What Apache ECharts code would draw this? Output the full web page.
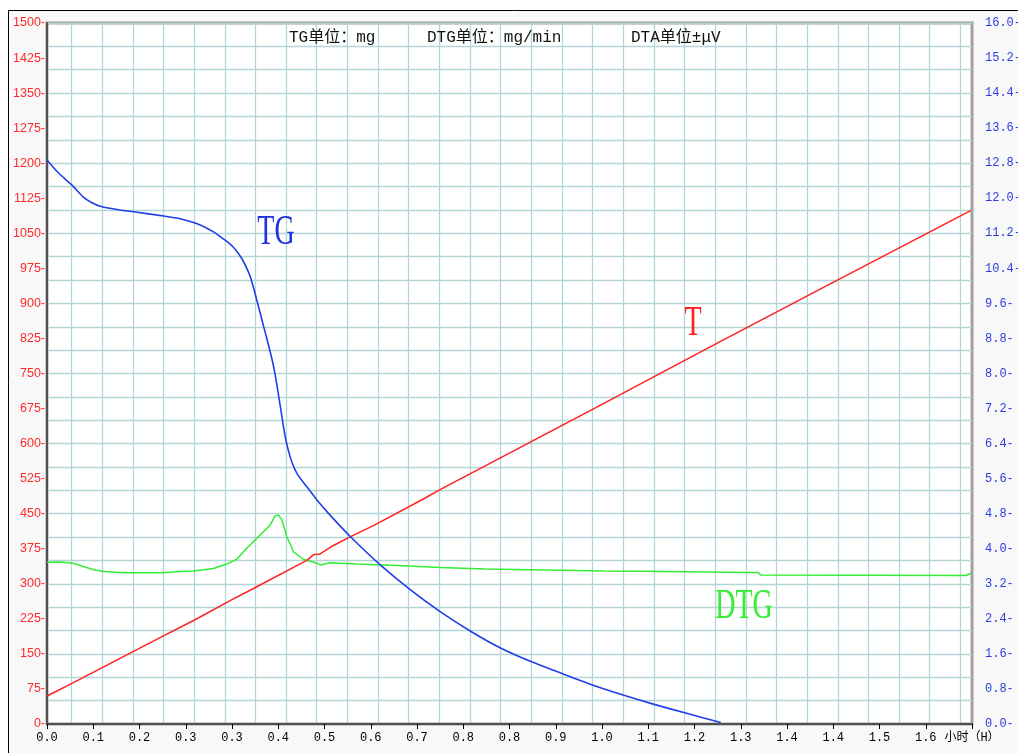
<!DOCTYPE html>
<html><head><meta charset="utf-8">
<script src="https://cdn.jsdelivr.net/npm/echarts@6/dist/echarts.min.js"></script>
<style>html,body{margin:0;padding:0;background:#fff;}#c{width:1018px;height:753px;}</style>
</head><body><div id="c"></div>
<script>
// ---- data (time in hours) ----
const xTickLabels = ['0.0','0.1','0.2','0.3','0.3','0.4','0.5','0.6','0.7','0.8','0.8','0.9','1.0','1.1','1.2','1.3','1.4','1.4','1.5','1.6','小时（H）'];

const tgTime  = [0, 0.02, 0.045, 0.065, 0.08, 0.096, 0.126, 0.156, 0.21, 0.24, 0.276, 0.30, 0.312, 0.327, 0.339, 0.351, 0.36, 0.366, 0.372, 0.378, 0.384, 0.39, 0.396, 0.402, 0.407, 0.411, 0.415, 0.419, 0.423, 0.426, 0.43, 0.435, 0.442, 0.45, 0.46, 0.468, 0.486, 0.51, 0.55, 0.601, 0.655, 0.709, 0.764, 0.818, 0.873, 0.928, 0.984, 1.038, 1.094, 1.149, 1.214];
const tgValue = [1207, 1180, 1153, 1128, 1116, 1108, 1101, 1096, 1087, 1081, 1068, 1053, 1043, 1030, 1016, 996, 975, 958, 934, 907, 880, 852, 825, 797, 772, 748, 720, 690, 660, 637, 610, 585, 558, 537, 520, 508, 480, 447, 397, 340, 287, 240, 198, 162, 133, 108, 83, 62, 42, 24, 3];

const dtgTime  = [0, 0.023, 0.047, 0.084, 0.102, 0.138, 0.21, 0.24, 0.264, 0.3, 0.324, 0.342, 0.36, 0.378, 0.402, 0.411, 0.417, 0.423, 0.432, 0.444, 0.462, 0.486, 0.492, 0.51, 0.559, 0.643, 0.709, 0.79, 0.871, 1.003, 1.112, 1.262, 1.281, 1.286, 1.656, 1.665];
const dtgValue = [3.69, 3.70, 3.67, 3.52, 3.48, 3.45, 3.45, 3.48, 3.49, 3.55, 3.65, 3.76, 4.01, 4.24, 4.54, 4.75, 4.77, 4.66, 4.28, 3.93, 3.76, 3.67, 3.63, 3.68, 3.65, 3.61, 3.57, 3.54, 3.52, 3.49, 3.48, 3.46, 3.46, 3.40, 3.39, 3.44];

const tTime  = [0, 0.045, 0.155, 0.209, 0.265, 0.33, 0.372, 0.468, 0.48, 0.492, 0.516, 0.547, 0.589, 0.679, 0.709, 0.781, 1.0, 1.2, 1.4, 1.665];
const tValue = [60, 87, 155, 188, 222, 264, 290, 350, 362, 364, 382, 401, 425, 482, 502, 547, 684, 810, 935, 1099];

const headerTexts = ['TG单位：mg', 'DTG单位：mg/min', 'DTA单位±μV'];
const curveLabels = ['TG', 'T', 'DTG'];

// ---- build ----
const toPairs = (ts, vs) => ts.map((t, i) => [t * 60, vs[i]]);
const GRID = {left: 47, right: 46, top: 23, bottom: 29};
const gridColor = '#b4d5d5';
const headFont = "'Liberation Mono', 'Noto Sans CJK SC', monospace";
const serif = "'Liberation Serif', 'DejaVu Serif', serif";

const chart = echarts.init(document.getElementById('c'), null, {renderer: 'canvas'});
const option = {
  backgroundColor: '#ffffff',
  animation: false,
  graphic: [
    {type: 'rect', z: -100, silent: true, shape: {x: 8.5, y: 10.5, width: 1100, height: 800},
     style: {fill: '#f8f8f8', stroke: '#000', lineWidth: 1}},
    {type: 'text', z: 100, x: 289, y: 38, style: {text: headerTexts[0], fontSize: 16, fontFamily: headFont, fill: '#111', verticalAlign: 'middle'}},
    {type: 'text', z: 100, x: 427, y: 38, style: {text: headerTexts[1], fontSize: 16, fontFamily: headFont, fill: '#111', verticalAlign: 'middle'}},
    {type: 'text', z: 100, x: 631, y: 38, style: {text: headerTexts[2], fontSize: 16, fontFamily: headFont, fill: '#111', verticalAlign: 'middle'}},
    {type: 'text', z: 100, x: 276, y: 233, scaleY: 1.5, style: {text: curveLabels[0], fontSize: 28, fontFamily: serif, fill: '#2233dd', align: 'center', verticalAlign: 'middle'}},
    {type: 'text', z: 100, x: 693, y: 324, scaleY: 1.5, style: {text: curveLabels[1], fontSize: 28, fontFamily: serif, fill: '#ff2020', align: 'center', verticalAlign: 'middle'}},
    {type: 'text', z: 100, x: 744, y: 607, scaleY: 1.5, style: {text: curveLabels[2], fontSize: 28, fontFamily: serif, fill: '#33ee33', align: 'center', verticalAlign: 'middle'}}
  ],
  grid: [
    Object.assign({show: true, outerBoundsMode: 'none', containLabel: false, backgroundColor: '#ffffff', borderColor: '#a0a0a0', borderWidth: 3}, GRID),
    {left: 71.5, right: 57.65, top: 23, bottom: 29, outerBoundsMode: 'none', containLabel: false}
  ],
  xAxis: [
    {type: 'value', gridIndex: 0, min: 0, max: 100, interval: 5,
     axisLine: {show: true, onZero: false, lineStyle: {color: '#505050', width: 2}},
     axisTick: {show: true, length: 5, lineStyle: {color: '#000', width: 1}},
     axisLabel: {formatter: v => xTickLabels[Math.round(v / 5)], fontFamily: headFont, fontSize: 12, color: '#000', margin: 8},
     splitLine: {show: false}},
    {type: 'value', gridIndex: 1, min: 0, max: 29, interval: 1,
     axisLine: {show: false}, axisTick: {show: false}, axisLabel: {show: false},
     splitLine: {show: true, lineStyle: {color: gridColor, width: 1.3}}}
  ],
  yAxis: [
    {type: 'value', gridIndex: 0, position: 'left', min: 0, max: 1500, interval: 75,
     axisLine: {show: true, onZero: false, lineStyle: {color: '#505050', width: 2}},
     axisTick: {show: false},
     axisLabel: {formatter: v => v + '-', color: '#ff2a2a', fontSize: 12.5, fontFamily: "'Liberation Sans', Arial, sans-serif", margin: 2},
     splitLine: {show: false}},
    {type: 'value', gridIndex: 0, position: 'right', min: 0, max: 16, interval: 0.8,
     axisLine: {show: false}, axisTick: {show: false},
     axisLabel: {formatter: v => v.toFixed(1) + '-', color: '#2a3ce0', fontSize: 12, fontFamily: headFont, margin: 13},
     splitLine: {show: false}},
    {type: 'value', gridIndex: 0, position: 'left', min: 0, max: 1500, interval: 50,
     axisLine: {show: false}, axisTick: {show: false}, axisLabel: {show: false},
     splitLine: {show: true, lineStyle: {color: gridColor, width: 1.3}}},
    {type: 'value', gridIndex: 1, min: 0, max: 1, show: false}
  ],
  series: [
    {name: 'TG', type: 'line', xAxisIndex: 0, yAxisIndex: 0, data: toPairs(tgTime, tgValue),
     showSymbol: false, smooth: 0.2, z: 5,
     lineStyle: {color: '#1f3fe8', width: 1.6}},
    {name: 'T', type: 'line', xAxisIndex: 0, yAxisIndex: 0, data: toPairs(tTime, tValue),
     showSymbol: false, z: 4, lineStyle: {color: '#ff2020', width: 1.5}},
    {name: 'DTG', type: 'line', xAxisIndex: 0, yAxisIndex: 1, data: toPairs(dtgTime, dtgValue),
     showSymbol: false, z: 3, lineStyle: {color: '#33ee33', width: 1.5}}
  ]
};
chart.setOption(option);
</script></body></html>
